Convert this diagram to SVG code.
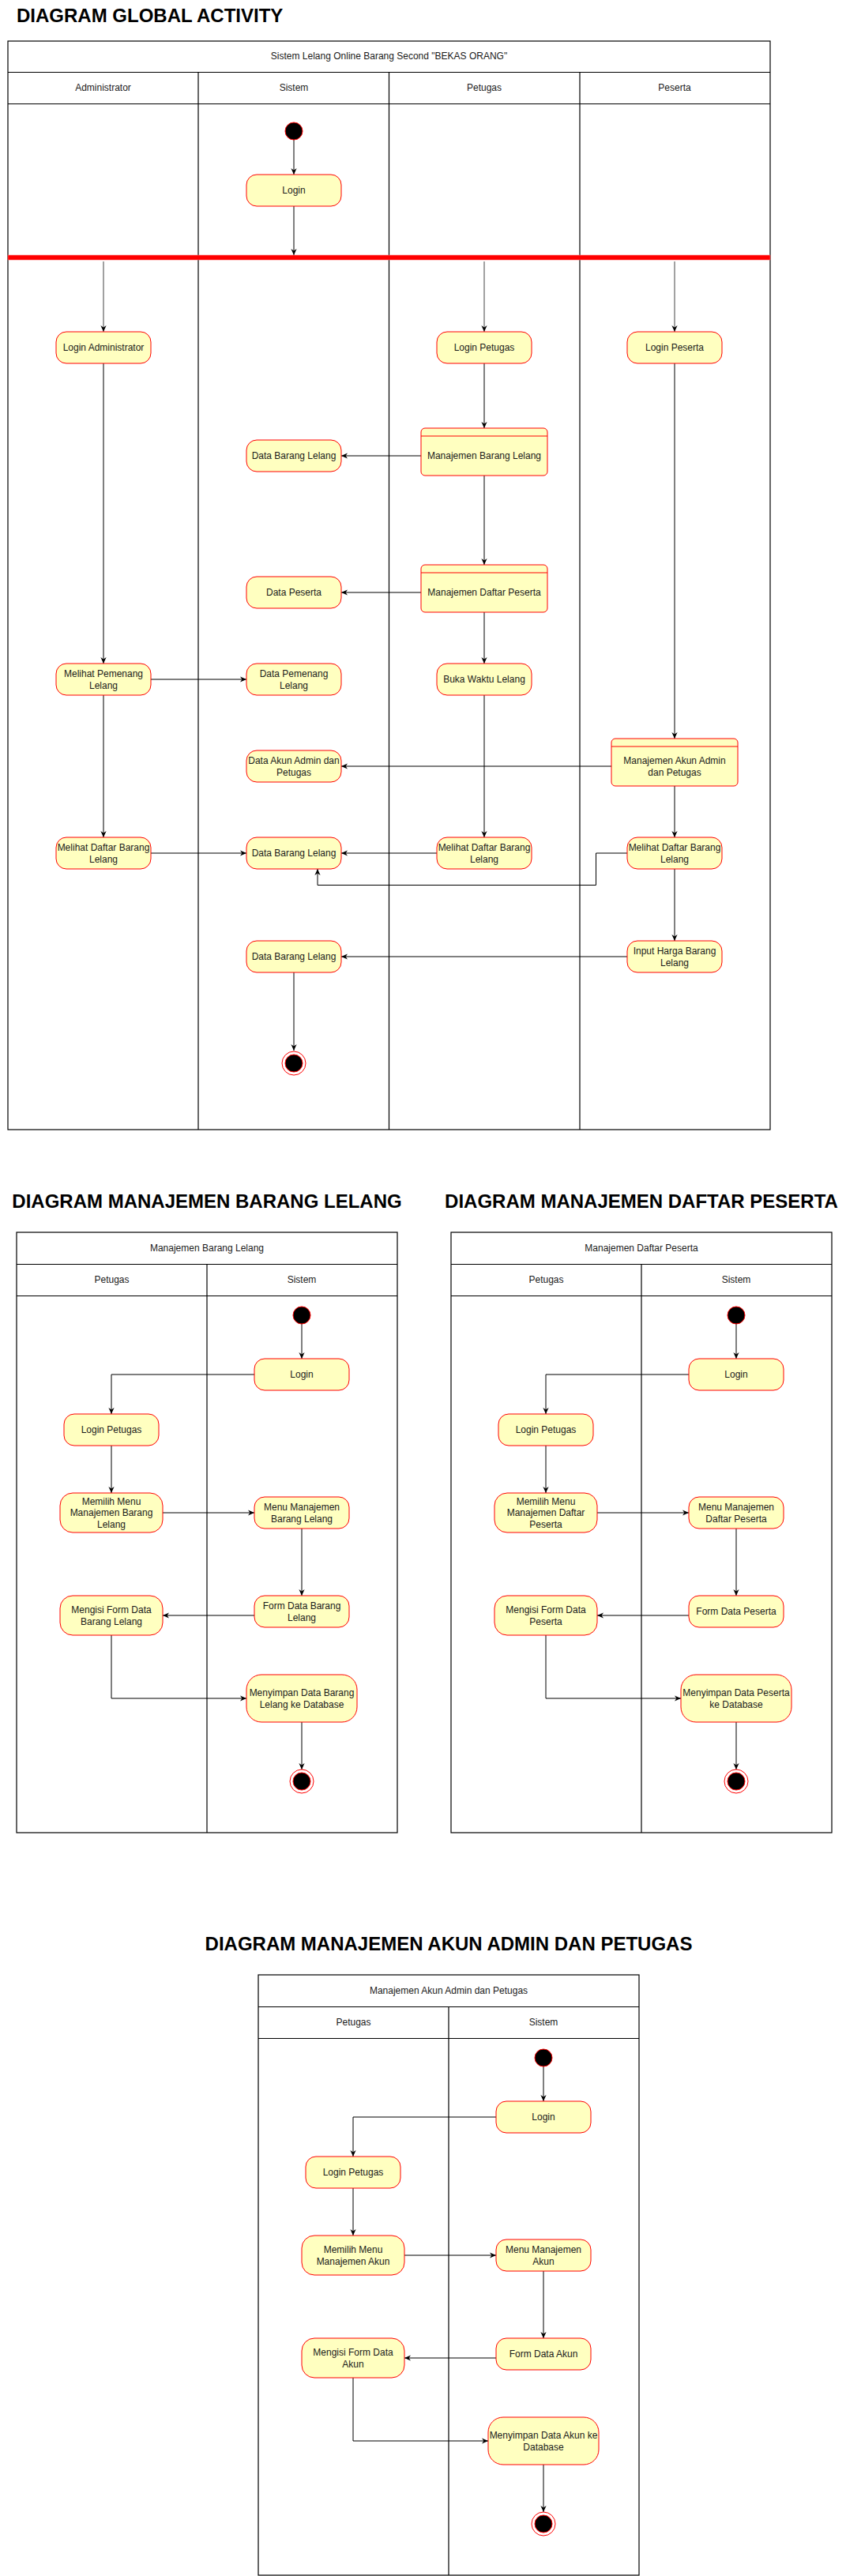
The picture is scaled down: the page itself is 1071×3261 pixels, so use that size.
<svg xmlns="http://www.w3.org/2000/svg" width="1071" height="3261" viewBox="0 0 1071 3261">
<defs>
<style>
.bg{fill:#fff}
.pool{fill:none;stroke:#000;stroke-width:1.2}
.ln{stroke:#000;stroke-width:1.2;fill:none}
.act{fill:#ffffc0;stroke:#ff0000;stroke-width:1}
.t{font-family:"Liberation Sans",Arial,Helvetica,sans-serif;font-size:12px;fill:#1a1a1a;text-anchor:middle}
.title{font-family:"Liberation Sans",Arial,Helvetica,sans-serif;font-size:24px;font-weight:bold;fill:#000}
.edge{fill:none;stroke:#000;stroke-width:1;marker-end:url(#arr)}
.start{fill:#000;stroke:#ff0000;stroke-width:1}
.endo{fill:#fff;stroke:#ff0000;stroke-width:1}
.endi{fill:#000;stroke:#ff0000;stroke-width:1}
</style>
<marker id="arr" viewBox="0 0 10 10" refX="10" refY="5" markerWidth="8" markerHeight="8" markerUnits="userSpaceOnUse" orient="auto">
<path d="M0,0.5 L10,5 L0,9.5 L3,5 z" fill="#000"/>
</marker>
</defs>
<rect class="bg" x="0" y="0" width="1071" height="3261"/>

<!-- ================= GLOBAL ================= -->
<text class="title" x="21" y="28">DIAGRAM GLOBAL ACTIVITY</text>
<g id="pool-global">
<rect class="pool" x="10" y="52" width="965" height="1378"/>
<line class="ln" x1="10" y1="91.5" x2="975" y2="91.5"/>
<line class="ln" x1="10" y1="131.5" x2="975" y2="131.5"/>
<line class="ln" x1="251" y1="91.5" x2="251" y2="1430"/>
<line class="ln" x1="492.5" y1="91.5" x2="492.5" y2="1430"/>
<line class="ln" x1="734" y1="91.5" x2="734" y2="1430"/>
<text class="t" x="492.5" y="75">Sistem Lelang Online Barang Second "BEKAS ORANG"</text>
<text class="t" x="130.5" y="115">Administrator</text>
<text class="t" x="372" y="115">Sistem</text>
<text class="t" x="613" y="115">Petugas</text>
<text class="t" x="854" y="115">Peserta</text>
</g>

<g id="g-connectors">
<path class="edge" d="M372,177 V221"/>
<path class="edge" d="M372,261 V323"/>
<path class="edge" d="M131,331 V420" style="stroke:#444"/>
<path class="edge" d="M613,331 V420" style="stroke:#444"/>
<path class="edge" d="M854,331 V420" style="stroke:#444"/>
<path class="edge" d="M131,460 V840"/>
<path class="edge" d="M131,880 V1060"/>
<path class="edge" d="M191,860 H312"/>
<path class="edge" d="M191,1080 H312"/>
<path class="edge" d="M613,460 V542"/>
<path class="edge" d="M533,577 H432"/>
<path class="edge" d="M613,602 V715"/>
<path class="edge" d="M533,750 H432"/>
<path class="edge" d="M613,775 V840"/>
<path class="edge" d="M613,880 V1060"/>
<path class="edge" d="M553,1080 H432"/>
<path class="edge" d="M854,460 V935"/>
<path class="edge" d="M774,970 H432"/>
<path class="edge" d="M854,995 V1060"/>
<path class="edge" d="M794,1080 H754.5 V1120.5 H402 V1100"/>
<path class="edge" d="M854,1100 V1191"/>
<path class="edge" d="M794,1211 H432"/>
<path class="edge" d="M372,1231 V1330"/>
</g>

<g id="g-fork"><rect x="10" y="323" width="965" height="6" fill="#ff0000" stroke="#ff6666" stroke-width="0.6"/></g>

<g id="g-start"><circle class="start" cx="372" cy="166" r="11"/></g>
<g id="g-login"><rect class="act" x="312" y="221" width="120" height="40" rx="13"/><text class="t" x="372" y="245">Login</text></g>
<g id="g-login-admin"><rect class="act" x="71" y="420" width="120" height="40" rx="13"/><text class="t" x="131" y="444">Login Administrator</text></g>
<g id="g-login-petugas"><rect class="act" x="553" y="420" width="120" height="40" rx="13"/><text class="t" x="613" y="444">Login Petugas</text></g>
<g id="g-login-peserta"><rect class="act" x="794" y="420" width="120" height="40" rx="13"/><text class="t" x="854" y="444">Login Peserta</text></g>
<g id="g-man-barang"><rect class="act" x="533" y="542" width="160" height="60" rx="5"/><line x1="533" y1="552" x2="693" y2="552" stroke="#ff0000"/><text class="t" x="613" y="581">Manajemen Barang Lelang</text></g>
<g id="g-data-barang-1"><rect class="act" x="312" y="557" width="120" height="40" rx="13"/><text class="t" x="372" y="581">Data Barang Lelang</text></g>
<g id="g-man-daftar"><rect class="act" x="533" y="715" width="160" height="60" rx="5"/><line x1="533" y1="725" x2="693" y2="725" stroke="#ff0000"/><text class="t" x="613" y="754">Manajemen Daftar Peserta</text></g>
<g id="g-data-peserta"><rect class="act" x="312" y="730" width="120" height="40" rx="13"/><text class="t" x="372" y="754">Data Peserta</text></g>
<g id="g-melihat-pemenang"><rect class="act" x="71" y="840" width="120" height="40" rx="13"/><text class="t" x="131" y="856.5">Melihat Pemenang</text><text class="t" x="131" y="871.5">Lelang</text></g>
<g id="g-data-pemenang"><rect class="act" x="312" y="840" width="120" height="40" rx="13"/><text class="t" x="372" y="856.5">Data Pemenang</text><text class="t" x="372" y="871.5">Lelang</text></g>
<g id="g-buka-waktu"><rect class="act" x="553" y="840" width="120" height="40" rx="13"/><text class="t" x="613" y="864">Buka Waktu Lelang</text></g>
<g id="g-man-akun"><rect class="act" x="774" y="935" width="160" height="60" rx="5"/><line x1="774" y1="945" x2="934" y2="945" stroke="#ff0000"/><text class="t" x="854" y="966.5">Manajemen Akun Admin</text><text class="t" x="854" y="981.5">dan Petugas</text></g>
<g id="g-data-akun"><rect class="act" x="312" y="950" width="120" height="40" rx="13"/><text class="t" x="372" y="966.5">Data Akun Admin dan</text><text class="t" x="372" y="981.5">Petugas</text></g>
<g id="g-melihat-daftar-admin"><rect class="act" x="71" y="1060" width="120" height="40" rx="13"/><text class="t" x="131" y="1076.5">Melihat Daftar Barang</text><text class="t" x="131" y="1091.5">Lelang</text></g>
<g id="g-data-barang-2"><rect class="act" x="312" y="1060" width="120" height="40" rx="13"/><text class="t" x="372" y="1084">Data Barang Lelang</text></g>
<g id="g-melihat-daftar-petugas"><rect class="act" x="553" y="1060" width="120" height="40" rx="13"/><text class="t" x="613" y="1076.5">Melihat Daftar Barang</text><text class="t" x="613" y="1091.5">Lelang</text></g>
<g id="g-melihat-daftar-peserta"><rect class="act" x="794" y="1060" width="120" height="40" rx="13"/><text class="t" x="854" y="1076.5">Melihat Daftar Barang</text><text class="t" x="854" y="1091.5">Lelang</text></g>
<g id="g-input-harga"><rect class="act" x="794" y="1191" width="120" height="40" rx="13"/><text class="t" x="854" y="1207.5">Input Harga Barang</text><text class="t" x="854" y="1222.5">Lelang</text></g>
<g id="g-data-barang-3"><rect class="act" x="312" y="1191" width="120" height="40" rx="13"/><text class="t" x="372" y="1215">Data Barang Lelang</text></g>
<g id="g-end"><circle class="endo" cx="372" cy="1346" r="15"/><circle class="endi" cx="372" cy="1346" r="11"/></g>

<!-- ================= MANAJEMEN BARANG LELANG ================= -->
<text class="title" x="262" y="1529" text-anchor="middle">DIAGRAM MANAJEMEN BARANG LELANG</text>
<g id="d2">
<g id="pool-d2">
<rect class="pool" x="21" y="1560" width="482" height="760"/>
<line class="ln" x1="21" y1="1600.5" x2="503" y2="1600.5"/>
<line class="ln" x1="21" y1="1640.5" x2="503" y2="1640.5"/>
<line class="ln" x1="262" y1="1600.5" x2="262" y2="2320"/>
<text class="t" x="262" y="1584">Manajemen Barang Lelang</text>
<text class="t" x="141.5" y="1624">Petugas</text>
<text class="t" x="382" y="1624">Sistem</text>
</g>
<g id="d2-connectors">
<path class="edge" d="M382,1676 V1720"/>
<path class="edge" d="M322,1740 H141 V1790"/>
<path class="edge" d="M141,1830 V1890"/>
<path class="edge" d="M206,1915 H322"/>
<path class="edge" d="M382,1935 V2020"/>
<path class="edge" d="M322,2045 H206"/>
<path class="edge" d="M141,2070 V2150 H312"/>
<path class="edge" d="M382,2180 V2240"/>
</g>
<g id="d2-start"><circle class="start" cx="382" cy="1665" r="11"/></g>
<g id="d2-login"><rect class="act" x="322" y="1720" width="120" height="40" rx="13"/><text class="t" x="382" y="1744">Login</text></g>
<g id="d2-login-petugas"><rect class="act" x="81" y="1790" width="120" height="40" rx="13"/><text class="t" x="141" y="1814">Login Petugas</text></g>
<g id="d2-memilih"><rect class="act" x="76" y="1890" width="130" height="50" rx="16"/><text class="t" x="141" y="1904.5">Memilih Menu</text><text class="t" x="141" y="1919">Manajemen Barang</text><text class="t" x="141" y="1933.5">Lelang</text></g>
<g id="d2-menu"><rect class="act" x="322" y="1895" width="120" height="40" rx="13"/><text class="t" x="382" y="1911.5">Menu Manajemen</text><text class="t" x="382" y="1926.5">Barang Lelang</text></g>
<g id="d2-form"><rect class="act" x="322" y="2020" width="120" height="40" rx="13"/><text class="t" x="382" y="2036.5">Form Data Barang</text><text class="t" x="382" y="2051.5">Lelang</text></g>
<g id="d2-mengisi"><rect class="act" x="76" y="2020" width="130" height="50" rx="16"/><text class="t" x="141" y="2041.5">Mengisi Form Data</text><text class="t" x="141" y="2056.5">Barang Lelang</text></g>
<g id="d2-menyimpan"><rect class="act" x="312" y="2120" width="140" height="60" rx="19"/><text class="t" x="382" y="2146.5">Menyimpan Data Barang</text><text class="t" x="382" y="2161.5">Lelang ke Database</text></g>
<g id="d2-end"><circle class="endo" cx="382" cy="2255" r="15"/><circle class="endi" cx="382" cy="2255" r="11"/></g>
</g>

<!-- ================= MANAJEMEN DAFTAR PESERTA ================= -->
<text class="title" x="812" y="1529" text-anchor="middle">DIAGRAM MANAJEMEN DAFTAR PESERTA</text>
<g id="d3" transform="translate(550,0)">
<g id="pool-d3">
<rect class="pool" x="21" y="1560" width="482" height="760"/>
<line class="ln" x1="21" y1="1600.5" x2="503" y2="1600.5"/>
<line class="ln" x1="21" y1="1640.5" x2="503" y2="1640.5"/>
<line class="ln" x1="262" y1="1600.5" x2="262" y2="2320"/>
<text class="t" x="262" y="1584">Manajemen Daftar Peserta</text>
<text class="t" x="141.5" y="1624">Petugas</text>
<text class="t" x="382" y="1624">Sistem</text>
</g>
<g id="d3-connectors">
<path class="edge" d="M382,1676 V1720"/>
<path class="edge" d="M322,1740 H141 V1790"/>
<path class="edge" d="M141,1830 V1890"/>
<path class="edge" d="M206,1915 H322"/>
<path class="edge" d="M382,1935 V2020"/>
<path class="edge" d="M322,2045 H206"/>
<path class="edge" d="M141,2070 V2150 H312"/>
<path class="edge" d="M382,2180 V2240"/>
</g>
<g id="d3-start"><circle class="start" cx="382" cy="1665" r="11"/></g>
<g id="d3-login"><rect class="act" x="322" y="1720" width="120" height="40" rx="13"/><text class="t" x="382" y="1744">Login</text></g>
<g id="d3-login-petugas"><rect class="act" x="81" y="1790" width="120" height="40" rx="13"/><text class="t" x="141" y="1814">Login Petugas</text></g>
<g id="d3-memilih"><rect class="act" x="76" y="1890" width="130" height="50" rx="16"/><text class="t" x="141" y="1904.5">Memilih Menu</text><text class="t" x="141" y="1919">Manajemen Daftar</text><text class="t" x="141" y="1933.5">Peserta</text></g>
<g id="d3-menu"><rect class="act" x="322" y="1895" width="120" height="40" rx="13"/><text class="t" x="382" y="1911.5">Menu Manajemen</text><text class="t" x="382" y="1926.5">Daftar Peserta</text></g>
<g id="d3-form"><rect class="act" x="322" y="2020" width="120" height="40" rx="13"/><text class="t" x="382" y="2044">Form Data Peserta</text></g>
<g id="d3-mengisi"><rect class="act" x="76" y="2020" width="130" height="50" rx="16"/><text class="t" x="141" y="2041.5">Mengisi Form Data</text><text class="t" x="141" y="2056.5">Peserta</text></g>
<g id="d3-menyimpan"><rect class="act" x="312" y="2120" width="140" height="60" rx="19"/><text class="t" x="382" y="2146.5">Menyimpan Data Peserta</text><text class="t" x="382" y="2161.5">ke Database</text></g>
<g id="d3-end"><circle class="endo" cx="382" cy="2255" r="15"/><circle class="endi" cx="382" cy="2255" r="11"/></g>
</g>

<!-- ================= MANAJEMEN AKUN ADMIN DAN PETUGAS ================= -->
<text class="title" x="568" y="2469" text-anchor="middle">DIAGRAM MANAJEMEN AKUN ADMIN DAN PETUGAS</text>
<g id="d4" transform="translate(306,940)">
<g id="pool-d4">
<rect class="pool" x="21" y="1560" width="482" height="760"/>
<line class="ln" x1="21" y1="1600.5" x2="503" y2="1600.5"/>
<line class="ln" x1="21" y1="1640.5" x2="503" y2="1640.5"/>
<line class="ln" x1="262" y1="1600.5" x2="262" y2="2320"/>
<text class="t" x="262" y="1584">Manajemen Akun Admin dan Petugas</text>
<text class="t" x="141.5" y="1624">Petugas</text>
<text class="t" x="382" y="1624">Sistem</text>
</g>
<g id="d4-connectors">
<path class="edge" d="M382,1676 V1720"/>
<path class="edge" d="M322,1740 H141 V1790"/>
<path class="edge" d="M141,1830 V1890"/>
<path class="edge" d="M206,1915 H322"/>
<path class="edge" d="M382,1935 V2020"/>
<path class="edge" d="M322,2045 H206"/>
<path class="edge" d="M141,2070 V2150 H312"/>
<path class="edge" d="M382,2180 V2240"/>
</g>
<g id="d4-start"><circle class="start" cx="382" cy="1665" r="11"/></g>
<g id="d4-login"><rect class="act" x="322" y="1720" width="120" height="40" rx="13"/><text class="t" x="382" y="1744">Login</text></g>
<g id="d4-login-petugas"><rect class="act" x="81" y="1790" width="120" height="40" rx="13"/><text class="t" x="141" y="1814">Login Petugas</text></g>
<g id="d4-memilih"><rect class="act" x="76" y="1890" width="130" height="50" rx="16"/><text class="t" x="141" y="1911.5">Memilih Menu</text><text class="t" x="141" y="1926.5">Manajemen Akun</text></g>
<g id="d4-menu"><rect class="act" x="322" y="1895" width="120" height="40" rx="13"/><text class="t" x="382" y="1911.5">Menu Manajemen</text><text class="t" x="382" y="1926.5">Akun</text></g>
<g id="d4-form"><rect class="act" x="322" y="2020" width="120" height="40" rx="13"/><text class="t" x="382" y="2044">Form Data Akun</text></g>
<g id="d4-mengisi"><rect class="act" x="76" y="2020" width="130" height="50" rx="16"/><text class="t" x="141" y="2041.5">Mengisi Form Data</text><text class="t" x="141" y="2056.5">Akun</text></g>
<g id="d4-menyimpan"><rect class="act" x="312" y="2120" width="140" height="60" rx="19"/><text class="t" x="382" y="2146.5">Menyimpan Data Akun ke</text><text class="t" x="382" y="2161.5">Database</text></g>
<g id="d4-end"><circle class="endo" cx="382" cy="2255" r="15"/><circle class="endi" cx="382" cy="2255" r="11"/></g>
</g>
</svg>
